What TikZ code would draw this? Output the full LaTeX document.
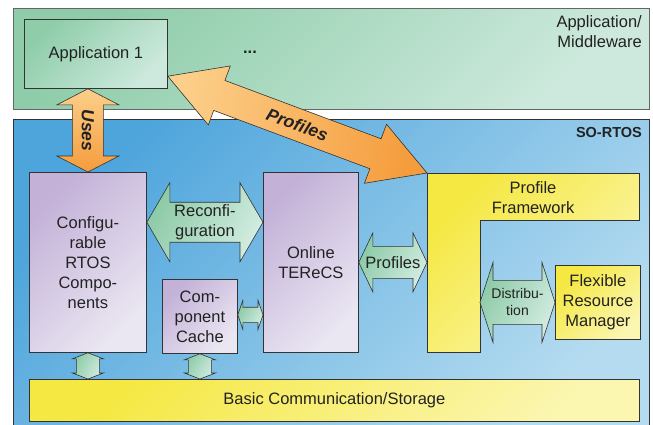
\documentclass[tikz,border=0pt]{standalone}
\usepackage{fontspec}
\setmainfont{Liberation Sans}
\usetikzlibrary{calc}
\definecolor{gA}{HTML}{8FCDAA}
\definecolor{gB}{HTML}{CDE9DD}
\definecolor{bA}{HTML}{4EA5DC}
\definecolor{bB}{HTML}{B4DBF0}
\definecolor{pA}{HTML}{C3B1D8}
\definecolor{pB}{HTML}{EBE7F2}
\definecolor{yA}{HTML}{F5E842}
\definecolor{yB}{HTML}{FBF6B0}
\definecolor{oA}{HTML}{FCCF8A}
\definecolor{oB}{HTML}{F59C3C}
\definecolor{aA}{HTML}{8CCAA6}
\definecolor{aB}{HTML}{D2ECE1}
\definecolor{txt}{HTML}{222222}
\definecolor{edge}{HTML}{333333}
\newcommand\blockarrow[6]{%
 \path[#1] (#2) -- ($(#2)!#6pt!(#3)!#5pt!90:(#3)$) -- ($(#2)!#6pt!(#3)!#4pt!90:(#3)$)
 -- ($(#3)!#6pt!(#2)!#4pt!-90:(#2)$) -- ($(#3)!#6pt!(#2)!#5pt!-90:(#2)$) -- (#3)
 -- ($(#3)!#6pt!(#2)!#5pt!90:(#2)$) -- ($(#3)!#6pt!(#2)!#4pt!90:(#2)$)
 -- ($(#2)!#6pt!(#3)!#4pt!-90:(#3)$) -- ($(#2)!#6pt!(#3)!#5pt!-90:(#3)$) -- cycle;}
\begin{document}
\begin{tikzpicture}[x=1pt,y=-1pt,
  every node/.style={text=txt, font=\fontsize{16.5}{20}\selectfont},
  box/.style={draw=edge, line width=0.8pt, inner sep=0pt, anchor=north west, align=center},
  purp/.style={top color=pA, bottom color=pB, shading angle=45},
  yel/.style={top color=yA, bottom color=yB, shading angle=45},
  grnarrow/.style={draw=edge, line width=0.6pt, left color=aA, right color=aB, shading angle=60},
  orarrow/.style={draw=edge, line width=0.6pt},
  lbl/.style={inner sep=0pt, align=center},
  bolditalic/.style={font=\fontsize{17.5}{20}\selectfont\bfseries\itshape}]
\useasboundingbox (0,0) rectangle (653,424);
% layers
\node[draw=black!60, line width=1pt, anchor=north west, inner sep=0pt, minimum width=636pt, minimum height=101pt,
      top color=gA, bottom color=gB, shading angle=45] (applayer) at (13,7.5) {};
\node[draw=edge, line width=1pt, anchor=north west, inner sep=0pt, minimum width=636pt, minimum height=310pt,
      top color=bA, bottom color=bB, shading angle=45] (oslayer) at (13,119) {};
\node[lbl, anchor=east, align=right] (applbl) at (642,32) {Application/\\Middleware};
\node[lbl, anchor=east, font=\fontsize{14.5}{17}\selectfont\bfseries] (oslbl) at (642,133) {SO-RTOS};
% boxes
\node[box, minimum width=143pt, minimum height=69.3pt, top color=gA, bottom color=gB, shading angle=45] (app) at (24,18.7) {Application 1};
\node[lbl] (dots) at (250,52) {\textbf{...}};
\node[box, purp, minimum width=117pt, minimum height=180pt] (conf) at (29,172) {Configu-\\rable\\RTOS\\Compo-\\nents};
\node[box, purp, minimum width=95pt, minimum height=180pt] (terecs) at (263,172) {Online\\TEReCS};
\node[box, purp, minimum width=75pt, minimum height=74pt] (cache) at (162,279) {Com-\\ponent\\Cache};
\node[box, yel, minimum width=85pt, minimum height=74pt] (frm) at (555,265) {Flexible\\Resource\\Manager};
\node[box, yel, minimum width=610pt, minimum height=42pt] (basic) at (29,379) {Basic Communication/Storage};
% profile framework (L shape)
\coordinate (pf) at (427,173);
\coordinate (fwi) at (480,220);
\path[draw=edge, line width=0.8pt, yel] (pf) -- (639,173) -- (639,220) -- (fwi) -- (480,352) -- (427,352) -- cycle;
\node[lbl] (pftext) at (533,198) {Profile\\Framework};
% connector end points
\coordinate (uT) at (conf.north |- app.south);
\coordinate (pA) at ($(app.north east)!0.82!(app.south east)$);
\coordinate (rL) at ($(conf.north east)!0.278!(conf.south east)$);
\coordinate (rR) at (terecs.west |- rL);
\coordinate (sL) at (terecs.east);
\coordinate (sR) at (pf |- terecs.east);
\coordinate (dL) at (fwi |- frm.west);
\coordinate (cL) at ($(cache.east)+(0,-1.5)$);
\coordinate (cR) at (terecs.west |- cL);
\coordinate (b1) at (conf.south |- basic.north);
\coordinate (b2) at (cache.south |- basic.north);
% block arrows
\blockarrow{orarrow, top color=oA, bottom color=oB}{uT}{conf.north}{15.5}{31}{16}
\blockarrow{orarrow, left color=oA, right color=oB, shading angle=80}{pA}{pf}{16}{31.5}{55}
\blockarrow{grnarrow}{rL}{rR}{20}{39.5}{23}
\blockarrow{grnarrow}{sL}{sR}{16}{29.5}{14}
\blockarrow{grnarrow}{dL}{frm.west}{22}{40}{13}
\blockarrow{grnarrow}{cL}{cR}{7.7}{14.5}{5}
\blockarrow{grnarrow}{conf.south}{b1}{11.5}{15.5}{6}
\blockarrow{grnarrow}{cache.south}{b2}{11.5}{15.5}{6}
% arrow labels
\node[lbl, bolditalic, rotate=-90] (useslbl) at ($(uT)!0.5!(conf.north)$) {Uses};
\node[lbl, bolditalic, rotate=-20.3] (proflbl) at ($(pA)!0.5!(pf)$) {Profiles};
\node[lbl] (reclbl) at ($(rL)!0.5!(rR)$) {Reconfi-\\guration};
\node[lbl] (profsm) at ($(sL)!0.5!(sR)$) {Profiles};
\node[lbl, font=\fontsize{14}{17}\selectfont] (distlbl) at ($(dL)!0.5!(frm.west)$) {Distribu-\\tion};
\end{tikzpicture}
\end{document}
